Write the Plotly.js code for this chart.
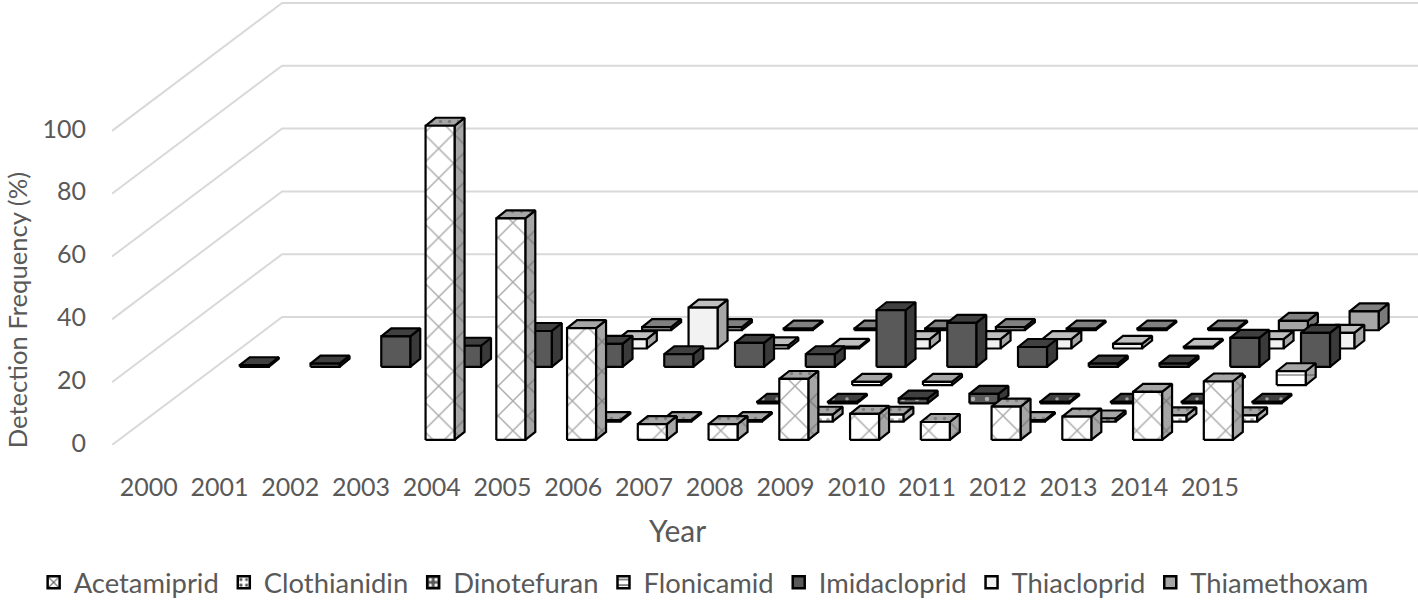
<!DOCTYPE html>
<html>
<head>
<meta charset="utf-8">
<script src="https://cdn.plot.ly/plotly-3.0.1.min.js"></script>
<style>html,body{margin:0;padding:0;background:#fff}</style>
</head>
<body>
<div id="chart" style="width:1418px;height:600px"></div>
<script>
const years = ["2000","2001","2002","2003","2004","2005","2006","2007","2008","2009","2010","2011","2012","2013","2014","2015"];
const yTicks = [0, 20, 40, 60, 80, 100];

const acetamiprid  = [null,null,null,null,100,70.5,35.6,5,5,19.4,8.3,5.7,10.6,7.4,15.3,18.6];
const clothianidin = [null,null,null,null,null,null,0.5,0.5,0.5,2.2,2.2,null,0.5,1,2,2];
const dinotefuran  = [null,null,null,null,null,null,null,null,0.5,0.5,1.5,3,0.5,0.5,0.5,0.5];
const flonicamid   = [null,null,null,null,null,null,null,null,null,1,1,null,null,null,0.5,4.4];
const imidacloprid = [0.5,1,9.7,6.7,11.4,7.3,4,7.6,4,18,14,6.3,1,1,9.2,10.8];
const thiacloprid  = [null,null,null,null,null,3,13,1,0.5,3,3,3,1.5,0.5,3,5];
const thiamethoxam = [null,null,null,null,null,1,1,0.5,0.5,0.5,1,0.5,0.5,0.5,3,6];

// oblique projection, in axis units (one category = 70.75px, 1% = 3.145px)
const depthX = 24.3 / 70.75, depthY = 18.3 / 3.145;
const barX = 0.432, barW = 29 / 70.75, baseY = 1.62;
const sideX = 10 / 70.75, sideY = 8 / 3.145;
const xEnd = (1418 - 112) / 70.75, yEnd = 445.5 / 3.145;

const white = "#FFFFFF", textColor = "#595959", gridColor = "#D9D9D9";
const hatch = { shape: "x", fgcolor: "#555555", size: 21, solidity: 0.13 };
const dots = { shape: ".", fgcolor: "#555555", size: 9, solidity: 0.12 };

const series = [
  { name: "Acetamiprid", values: acetamiprid, front: white, side: "#A6A6A6", top: "#A6A6A6", frontP: hatch, sideP: hatch, topP: dots },
  { name: "Clothianidin", values: clothianidin, front: white, side: "#A6A6A6", top: "#A6A6A6", frontP: { shape: ".", fgcolor: "#555555", size: 8, solidity: 0.2 }, sideP: dots, topP: dots },
  { name: "Dinotefuran", values: dinotefuran, front: "#595959", side: "#3A3A3A", top: "#404040", frontP: { shape: ".", fgcolor: "#FFFFFF", size: 14, solidity: 0.08 }, topP: { shape: ".", fgcolor: "#FFFFFF", size: 14, solidity: 0.05 } },
  { name: "Flonicamid", values: flonicamid, front: white, side: "#A6A6A6", top: "#A6A6A6", frontP: { shape: "-", fgcolor: "#555555", size: 10, solidity: 0.2 }, sideP: { shape: "-", fgcolor: "#555555", size: 10, solidity: 0.2 } },
  { name: "Imidacloprid", values: imidacloprid, front: "#595959", side: "#3A3A3A", top: "#404040" },
  { name: "Thiacloprid", values: thiacloprid, front: "#F2F2F2", side: "#A6A6A6", top: "#BFBFBF" },
  { name: "Thiamethoxam", values: thiamethoxam, front: "#A6A6A6", side: "#7A7A7A", top: "#808080" },
];

function face(xs, ys, color, pattern) {
  const trace = {
    x: xs, y: ys, type: "scatter", mode: "lines", fill: "toself", fillcolor: color,
    line: { color: "#000000", width: 2.2 }, showlegend: false, hoverinfo: "skip",
  };
  if (pattern) trace.fillpattern = Object.assign({ bgcolor: color, fillmode: "overlay" }, pattern);
  return trace;
}

function barFaces(s, depth) {
  const f = { x: [], y: [] }, r = { x: [], y: [] }, t = { x: [], y: [] };
  const add = (poly, xs, ys) => { poly.x.push(...xs, null); poly.y.push(...ys, null); };
  s.values.forEach((v, k) => {
    if (v === null) return;
    const x0 = k + barX + depth * depthX, x1 = x0 + barW;
    const y0 = baseY + depth * depthY, y1 = y0 + v;
    add(f, [x0, x1, x1, x0, x0], [y0, y0, y1, y1, y0]);
    add(r, [x1, x1 + sideX, x1 + sideX, x1, x1], [y0, y0 + sideY, y1 + sideY, y1, y0]);
    add(t, [x0, x1, x1 + sideX, x0 + sideX, x0], [y1, y1, y1 + sideY, y1 + sideY, y1]);
  });
  return [face(r.x, r.y, s.side, s.sideP), face(t.x, t.y, s.top, s.topP), face(f.x, f.y, s.front, s.frontP)];
}

// floor/wall gridlines
const gridX = [], gridY = [];
yTicks.forEach((v) => {
  gridX.push(0, 7 * depthX, xEnd, null);
  gridY.push(v, v + 7 * depthY, v + 7 * depthY, null);
});
const gridTrace = {
  x: gridX, y: gridY, type: "scatter", mode: "lines",
  line: { color: gridColor, width: 2 }, showlegend: false, hoverinfo: "skip",
};

// legend entries only, the real bars are polygons
const legendTraces = series.map((s) => ({
  x: [null], y: [null], type: "bar", name: s.name,
  marker: {
    color: s.front, line: { color: "#000000", width: 2.5 },
    pattern: s.frontP ? Object.assign({}, s.frontP, { bgcolor: s.front, size: s.frontP.shape === "x" ? 12 : 7, solidity: 0.25 }) : undefined,
  },
}));

const data = [gridTrace];
for (let d = series.length - 1; d >= 0; d--) data.push(...barFaces(series[d], d));
data.push(...legendTraces);

const font = { family: "Lato, sans-serif", size: 25, color: textColor };

const layout = {
  width: 1418, height: 600,
  margin: { l: 112, r: 0, t: 0, b: 154.5, autoexpand: false },
  paper_bgcolor: white, plot_bgcolor: white,
  font: font,
  showlegend: true,
  legend: {
    orientation: "h", x: -0.06, xanchor: "left", y: -0.254, yanchor: "top",
    font: { family: font.family, size: 27.4, color: textColor }, bgcolor: "rgba(0,0,0,0)",
  },
  xaxis: {
    range: [0, xEnd], tickmode: "array", tickvals: years.map((y, i) => i + 0.52), ticktext: years,
    showgrid: false, zeroline: false, showline: false, ticks: "", ticklabelstandoff: 25, fixedrange: true,
  },
  yaxis: {
    range: [0, yEnd], tickmode: "array", tickvals: yTicks, ticktext: yTicks.map(String),
    showgrid: false, zeroline: false, showline: false, ticks: "", ticklabelstandoff: 25, ticklabelshift: -2, fixedrange: true,
  },
  annotations: [
    { text: "Year", xref: "x", yref: "paper", x: 7.99, y: -0.191, yanchor: "middle", showarrow: false, font: { family: font.family, size: 30, color: textColor } },
    { text: "Detection Frequency (%)", xref: "paper", yref: "y", x: -0.0725, xanchor: "center", y: 43, textangle: -90, showarrow: false, font: { family: font.family, size: 25.6, color: textColor } },
  ],
};

Plotly.newPlot("chart", data, layout, { displayModeBar: false, staticPlot: true });
</script>
</body>
</html>
